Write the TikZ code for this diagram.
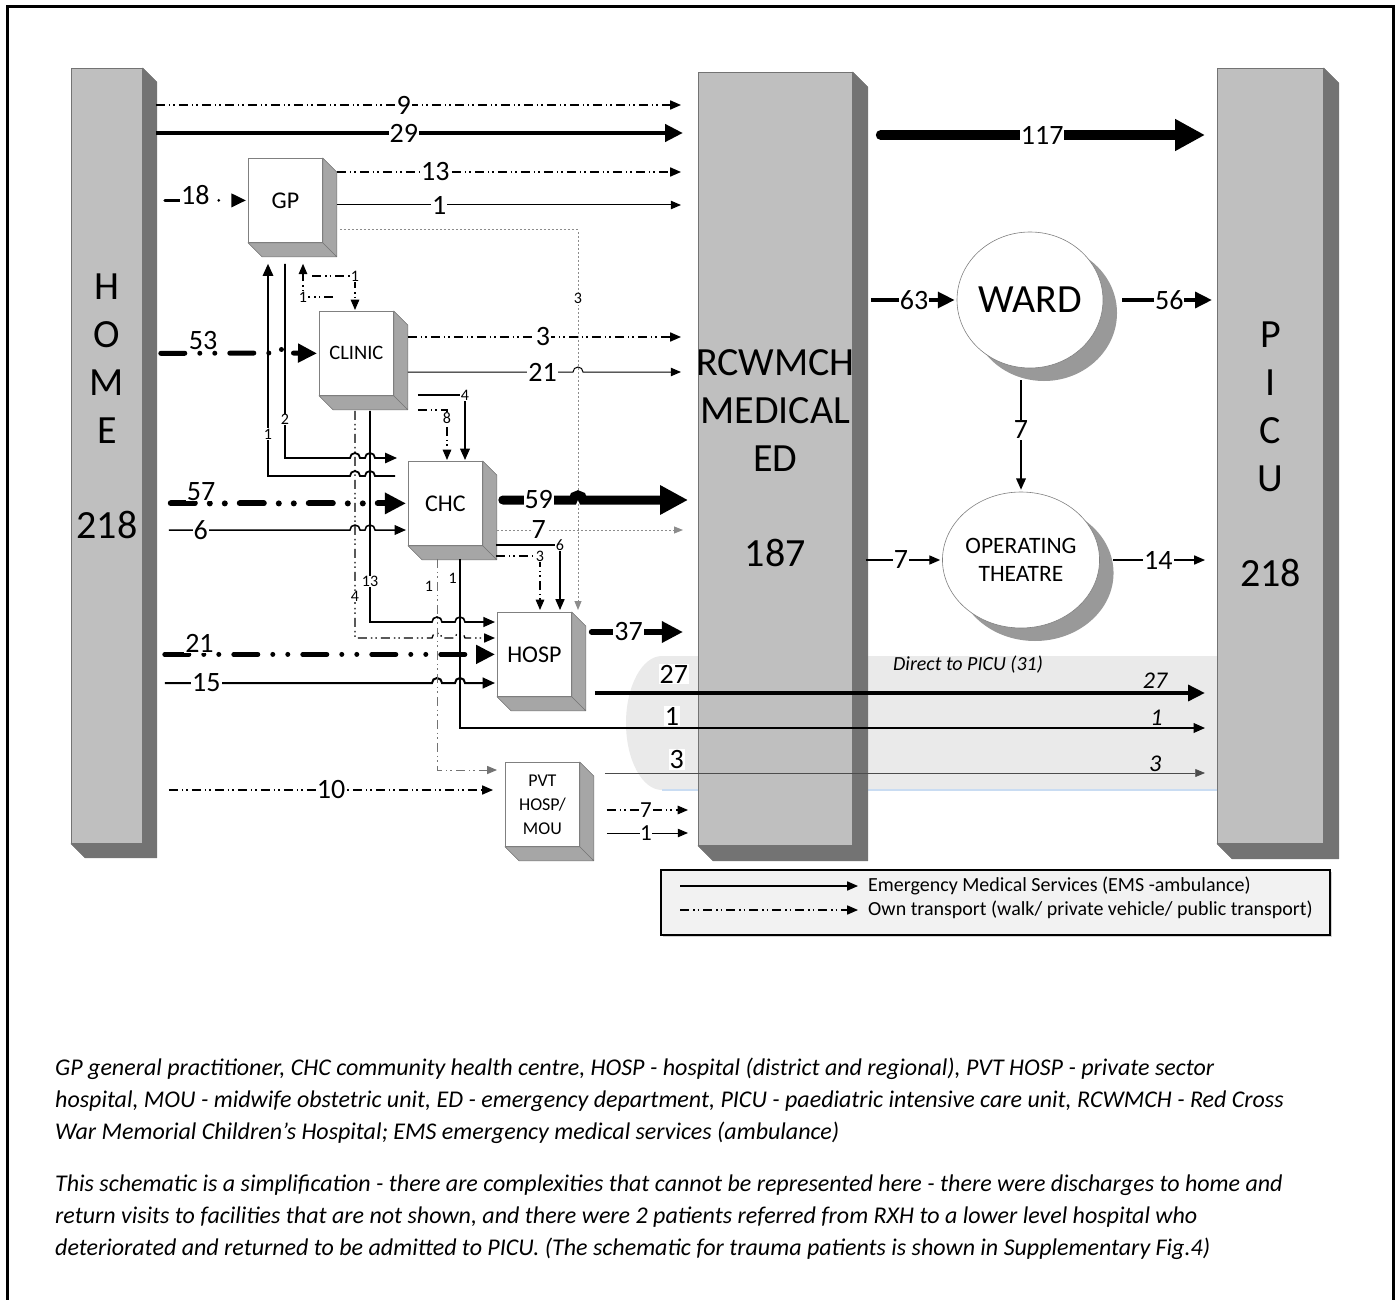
\documentclass[tikz,border=0pt]{standalone}
\usepackage{fontspec}
\setmainfont{Carlito}
\usepackage{xcolor}
\usepackage{tikz}
\usetikzlibrary{arrows.meta,calc,positioning,shadows,shapes.geometric}
\definecolor{slabfront}{HTML}{BFBFBF}
\definecolor{slabside}{HTML}{737373}
\definecolor{cubeside}{HTML}{A6A6A6}
\definecolor{bandgray}{HTML}{EAEAEA}
\definecolor{bandblue}{HTML}{C9DCF2}
\definecolor{legendfill}{HTML}{F2F2F2}
\newcommand{\extrude}[3]{%
  \filldraw[fill=#3,draw=black!55,line width=0.6pt,line join=round]
    (#1.north east) -- ++(#2,#2) -- ($(#1.south east)+(#2,#2)$) -- (#1.south east) -- cycle
    (#1.south west) -- ++(#2,#2) -- ($(#1.south east)+(#2,#2)$) -- (#1.south east) -- cycle;}
\tikzset{
  slab/.style={rectangle,draw=black!55,fill=slabfront,line width=0.8pt,anchor=north west,inner sep=0pt},
  cube/.style={rectangle,draw=black!50,fill=white,line width=0.8pt,minimum width=74pt,minimum height=84pt,
    anchor=north west,align=center,inner sep=0pt,font=\fontsize{24}{24}\selectfont},
  pot/.style={ellipse,draw=black!50,fill=white,line width=0.6pt,minimum width=142pt,minimum height=136pt,
    inner sep=0pt,align=center,drop shadow={shadow xshift=14pt,shadow yshift=-13pt,fill=black!40,opacity=1}},
  bigtext/.style={align=center,inner sep=0pt,font=\fontsize{40}{48}\selectfont},
  ems/.style={draw=black,line width=#1,-{Triangle[length=8pt 2.2,width=6pt 2.4]}},
  ems/.default=1pt,
  own/.style={draw=black,line width=#1,dash pattern=on 9pt off 4pt on 1.5pt off 3pt on 1.5pt off 4pt,
    -{Triangle[length=8pt 2.2,width=6pt 2.4]}},
  own/.default=1.3pt,
  ownbig/.style={draw=black,line width=#1,line cap=round,dash pattern=on 24pt off 15pt on 0pt off 15pt on 0pt off 15pt,
    -{Triangle[length=8pt 2.2,width=6pt 2.4]}},
  faint/.style={draw=black!45,line width=1pt,dash pattern=on 2pt off 2pt,-{Triangle[length=9pt,width=7pt]}},
  lab/.style={fill=white,inner sep=1pt,font=\fontsize{28}{28}\selectfont},
  tiny/.style={fill=white,inner sep=0.5pt,font=\fontsize{16}{16}\selectfont},
  italab/.style={inner sep=1pt,font=\fontsize{24}{24}\selectfont\itshape},
  legtext/.style={anchor=west,inner sep=0pt,font=\fontsize{20}{20}\selectfont},
  caption/.style={anchor=north west,align=left,inner sep=0pt,font=\fontsize{24}{32}\selectfont\itshape}
}
\begin{document}
\begin{tikzpicture}[x=1pt,y=-1pt]
\useasboundingbox (0,0) rectangle (1400,1300);
\draw[line width=3pt] (7,1310) -- (7,7) -- (1393,7) -- (1393,1310);

\fill[bandgray] (1217,656) -- (662,656) arc[start angle=90,end angle=270,x radius=36pt,y radius=67pt] -- (1217,790) -- cycle;
\draw[bandblue,line width=2pt] (662,790) -- (1217,790);
\node[italab,font=\fontsize{20}{20}\selectfont\itshape] (direct) at (968,665) {Direct to PICU (31)};

\node[slab,minimum width=71pt,minimum height=775pt] (home) at (71,68) {};
\node[slab,minimum width=154pt,minimum height=773pt] (ed) at (698,72) {};
\node[slab,minimum width=106pt,minimum height=775pt] (picu) at (1217,68) {};
\extrude{home}{14}{slabside}
\extrude{ed}{15}{slabside}
\extrude{picu}{15}{slabside}
\node[bigtext,below=206pt of home.north] (hometext) {H\\O\\M\\E\\[47pt]218};
\node[bigtext,below=277pt of ed.north] (edtext) {RCWMCH\\MEDICAL\\ED\\[47pt]187};
\node[bigtext,below=254pt of picu.north] (picutext) {P\\I\\C\\U\\[47pt]218};

\node[cube] (gp) at (248,158) {GP};
\node[cube,font=\fontsize{20.5}{24}\selectfont] (clinic) at (319,311) {CLINIC};
\node[cube] (chc) at (408,461) {CHC};
\node[cube] (hosp) at (497,612) {HOSP};
\node[cube,font=\fontsize{18}{24}\selectfont] (pvt) at (505,762) {PVT\\HOSP/\\MOU};
\extrude{gp}{14}{cubeside}
\extrude{clinic}{14}{cubeside}
\extrude{chc}{14}{cubeside}
\extrude{hosp}{14}{cubeside}
\extrude{pvt}{14}{cubeside}

\node[pot,font=\fontsize{40}{40}\selectfont] (ward) at (1030,300) {WARD};
\node[pot,font=\fontsize{23.5}{28}\selectfont] (theatre) at (1021,560) {OPERATING\\THEATRE};

\draw[own,shorten <=13pt,shorten >=17pt] (home.east |- 0,105) -- node[lab,pos=.47]{9} (ed.west |- 0,105);
\draw[ems=4.5pt,shorten <=13pt,shorten >=15pt] (home.east |- 0,133) -- node[lab,pos=.47]{29} (ed.west |- 0,133);
\draw[ownbig=3pt,shorten <=22pt,shorten >=2pt] (home.east |- gp.west) -- node[lab,pos=.5,yshift=5pt]{18} (gp.west);
\draw[ownbig=5pt,shorten <=18pt,shorten >=2pt] (home.east |- clinic.west) -- node[lab,pos=.44,yshift=13pt]{53} (280,353)
  arc[start angle=180,end angle=0,radius=5pt] -- (clinic.west);
\draw[ownbig=6pt,shorten <=28pt,shorten >=2pt] (home.east |- chc.west) -- node[lab,pos=.22,yshift=12pt]{57} (chc.west);
\draw[ems=1.5pt,shorten <=26pt,shorten >=2pt] (home.east |- 0,530) -- node[lab,pos=.28]{6} (350,530)
  arc[start angle=180,end angle=0,radius=5pt] -- (365,530) arc[start angle=180,end angle=0,radius=5pt] -- (chc.west |- 0,530);
\draw[ownbig=5pt,shorten <=22pt,shorten >=2pt] (home.east |- hosp.west) -- node[lab,pos=.16,yshift=11pt]{21} (hosp.west);
\draw[ems=2pt,shorten <=22pt,shorten >=2pt] (home.east |- 0,683) -- node[lab,pos=.22]{15} (432,683)
  arc[start angle=180,end angle=0,radius=5pt] -- (455,683) arc[start angle=180,end angle=0,radius=5pt] -- (hosp.west |- 0,683);
\draw[own,shorten <=26pt,shorten >=12pt] (home.east |- 0,790) -- node[lab,pos=.52]{10} (pvt.west |- 0,790);

\draw[own,shorten <=14pt,shorten >=17pt] (gp.east |- 0,172) -- node[lab,pos=.3]{13} (ed.west |- 0,172);
\draw[ems,shorten <=14pt,shorten >=17pt] (gp.east |- 0,205) -- node[lab,pos=.31]{1} (ed.west |- 0,205);
\draw[faint,shorten <=17pt,shorten >=2pt] (gp.east |- 0,230) -- (578,230) -- node[tiny,pos=.18]{3} (578,0 |- hosp.north);

\draw[ems=1.8pt,shorten <=13pt,shorten >=21pt] (chc.west |- 0,476) -- (375,476)
  arc[start angle=0,end angle=180,radius=5pt] -- (360,476) arc[start angle=0,end angle=180,radius=5pt]
  -- (268,476) -- node[tiny,pos=.18]{1} (gp.south -| 268,0);
\draw[ems=1.8pt,shorten <=21pt,shorten >=11pt] (gp.south -| 285,0) -- node[tiny,pos=.82]{2} (285,458) -- (350,458)
  arc[start angle=180,end angle=0,radius=5pt] -- (365,458) arc[start angle=180,end angle=0,radius=5pt] -- (chc.west |- 0,458);
\coordinate (backgp) at (333,297);
\coordinate (toclinic) at (312,276);
\draw[own=1.1pt,shorten >=21pt] (backgp) -- (303,297) node[tiny]{1} -- (gp.south -| 303,0);
\draw[own=1.1pt,shorten >=1pt] (toclinic) -- (355,276) node[tiny]{1} -- (clinic.north -| 355,0);

\draw[own,shorten <=14pt,shorten >=17pt] (clinic.east |- 0,337) -- node[lab,pos=.49]{3} (ed.west |- 0,337);
\draw[ems,shorten <=14pt,shorten >=17pt] (clinic.east |- 0,372) -- node[lab,pos=.83]{21} (573,372)
  arc[start angle=180,end angle=0,radius=5pt] -- (ed.west |- 0,372);
\draw[ems=1.5pt,shorten <=24pt,shorten >=1pt] (clinic.east |- 0,395) -- (465,395) node[tiny]{4} -- (chc.north -| 465,0);
\draw[own=1.1pt,shorten <=24pt,shorten >=1pt] (clinic.east |- 0,410) -- (447,410) -- node[tiny,pos=.15]{8} (chc.north -| 447,0);
\draw[ems=1.6pt,shorten <=15pt,shorten >=2pt] (clinic.south -| 370,0) -- node[tiny,pos=.82]{13} (370,622) -- (432,622)
  arc[start angle=180,end angle=0,radius=5pt] -- (455,622) arc[start angle=180,end angle=0,radius=5pt] -- (hosp.west |- 0,622);
\draw[own,shorten <=15pt,shorten >=2pt] (clinic.south -| 355,0) -- node[tiny,pos=.83]{4} (355,638) -- (432,638)
  arc[start angle=180,end angle=0,radius=5pt] -- (455,638) arc[start angle=180,end angle=0,radius=5pt] -- (hosp.west |- 0,638);

\draw[ems=9pt,line cap=round,shorten <=20pt,shorten >=10pt] (chc.east |- 0,500) -- node[lab,pos=.62]{59} (573,500)
  arc[start angle=180,end angle=0,radius=5pt] -- (ed.west |- 0,500);
\draw[faint,shorten <=14pt,shorten >=15pt] (chc.east |- 0,530) -- node[lab,pos=.26]{7} (ed.west |- 0,530);
\draw[ems=1.3pt,shorten <=13pt,shorten >=2pt] (chc.east |- 0,545) -- (560,545) node[tiny]{6} -- (hosp.north -| 560,0);
\draw[own=1.1pt,shorten <=13pt,shorten >=2pt] (chc.east |- 0,556) -- (540,556) node[tiny]{3} -- (hosp.north -| 540,0);
\draw[own=0.9pt,draw=black!55,shorten <=13pt,shorten >=8pt] (chc.south -| 437,0) -- node[tiny,pos=.18,left=3pt]{1} (437,770) -- (pvt.west |- 0,770);
\draw[ems=1.5pt,shorten <=13pt,shorten >=12pt] (chc.south -| 460,0) -- node[tiny,pos=.18,left=2pt]{1} (460,728)
  -- node[lab,pos=.28,above=1pt]{1} node[italab,pos=.92,above=1pt]{1} (picu.west |- 0,728);

\draw[ems=6pt,line cap=round,shorten <=20pt,shorten >=15pt] (hosp.east |- 0,632) -- node[lab,pos=.45]{37} (ed.west |- 0,632);
\draw[ems=4pt,shorten <=23pt,shorten >=12pt] (hosp.east |- 0,693) -- node[lab,pos=.158,above=7pt]{27} node[italab,pos=.904,above=2pt]{27} (picu.west |- 0,693);
\draw[ems=0.8pt,draw=black!70,shorten <=25pt,shorten >=12pt] (pvt.east |- 0,773) -- node[lab,pos=.152,above=3pt]{3} node[italab,pos=.903,above=0pt]{3} (picu.west |- 0,773);
\draw[own=1.1pt,shorten <=27pt,shorten >=10pt] (pvt.east |- 0,810) -- node[lab,pos=.56,inner sep=0pt,font=\fontsize{23}{23}\selectfont]{7} (ed.west |- 0,810);
\draw[ems,shorten <=27pt,shorten >=10pt] (pvt.east |- 0,833) -- node[lab,pos=.56,inner sep=0pt,font=\fontsize{23}{23}\selectfont]{1} (ed.west |- 0,833);

\draw[ems=10pt,line cap=round,shorten <=28pt,shorten >=12pt] (ed.east |- 0,135) -- node[lab,pos=.52]{117} (picu.west |- 0,135);
\draw[ems=4pt,shorten <=18pt,shorten >=2pt] (ed.east |- ward.west) -- node[lab,pos=.59]{63} (ward.west);
\draw[ems=1.3pt,shorten <=13pt,shorten >=2pt] (ed.east |- theatre.west) -- node[lab,pos=.54]{7} (theatre.west);
\draw[ems=4pt,shorten <=19pt,shorten >=5pt] (ward.east) -- node[lab,pos=.58]{56} (picu.west |- ward.east);
\draw[ems=1.5pt,shorten <=12pt,shorten >=2pt] (ward.south -| theatre.north) -- node[lab,pos=.5]{7} (theatre.north);
\draw[ems=1.3pt,shorten <=13pt,shorten >=12pt] (theatre.east) -- node[lab,pos=.5]{14} (picu.west |- theatre.east);

\node[draw=black,line width=2pt,fill=legendfill,minimum width=669pt,minimum height=65pt,anchor=north west,inner sep=0pt,
  drop shadow={shadow xshift=2pt,shadow yshift=-2pt,opacity=.35}] (legend) at (660,869) {};
\node[legtext] (legems) at (868,886) {Emergency Medical Services (EMS -ambulance)};
\node[legtext] (legown) at (868,910) {Own transport (walk/ private vehicle/ public transport)};
\draw[ems=1.3pt,shorten <=20pt,shorten >=10pt] (legend.west |- legems.west) -- (legems.west);
\draw[own=1.3pt,shorten <=20pt,shorten >=10pt] (legend.west |- legown.west) -- (legown.west);

\node[caption] (key) at (55,1058) {GP general practitioner, CHC community health centre, HOSP - hospital (district and regional), PVT HOSP - private sector\\
hospital, MOU - midwife obstetric unit, ED - emergency department, PICU - paediatric intensive care unit, RCWMCH - Red Cross\\
War Memorial Children’s Hospital; EMS emergency medical services (ambulance)};
\node[caption] (note) at (55,1175) {This schematic is a simplification - there are complexities that cannot be represented here - there were discharges to home and\\
return visits to facilities that are not shown, and there were 2 patients referred from RXH to a lower level hospital who\\
deteriorated and returned to be admitted to PICU. (The schematic for trauma patients is shown in Supplementary Fig.4)};
\end{tikzpicture}
\end{document}
